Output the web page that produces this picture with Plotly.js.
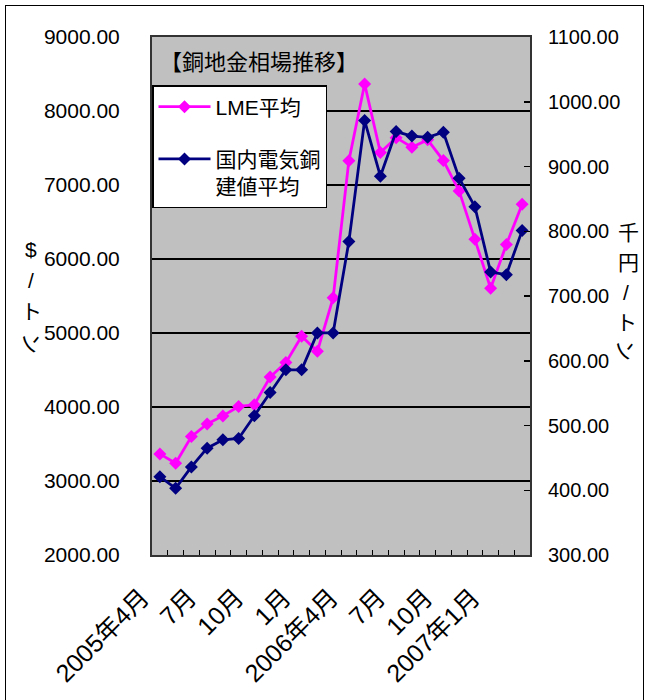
<!DOCTYPE html>
<html>
<head>
<meta charset="utf-8">
<script src="https://cdn.plot.ly/plotly-3.0.1.min.js"></script>
<style>
  html, body { margin: 0; padding: 0; background: #fff; }
  #wrap { position: relative; width: 648px; height: 700px; }
  #chart { width: 648px; height: 700px; }
  #frame { position: absolute; left: 5px; top: 5px; width: 637px; height: 710px;
           border: 1px solid #000; pointer-events: none; }
</style>
</head>
<body>
<div id="wrap">
  <div id="chart"></div>
  <div id="frame"></div>
</div>
<script>
// ---- data ----
const months = ["2005/04","2005/05","2005/06","2005/07","2005/08","2005/09","2005/10","2005/11","2005/12",
                "2006/01","2006/02","2006/03","2006/04","2006/05","2006/06","2006/07","2006/08","2006/09",
                "2006/10","2006/11","2006/12","2007/01","2007/02","2007/03"];
const tickLabels = ["2005年4月","","","7月","","","10月","","","1月","","",
                    "2006年4月","","","7月","","","10月","","","2007年1月","",""];
const lmeAvg = [3366, 3240, 3600, 3770, 3880, 4007, 4030, 4405, 4600, 4955, 4752, 5475,
                7328, 8366, 7440, 7640, 7510, 7610, 7330, 6920, 6266, 5605, 6195, 6740];
const domesticAvg = [421, 403, 436, 465, 478, 480, 515, 551, 586, 586, 643, 643,
                     784, 971, 885, 954, 947, 945, 953, 882, 838, 737, 733, 801];
const leftTicks = [2000, 3000, 4000, 5000, 6000, 7000, 8000, 9000];
const rightTicks = [300, 400, 500, 600, 700, 800, 900, 1000, 1100];
const chartTitle = "【銅地金相場推移】";
const name1 = "LME平均";
const name2 = "国内電気銅<br>建値平均";

// ---- layout helpers (pixel -> paper) ----
const L = 152, R = 530, T = 37, B = 555;
const px = x => (x - L) / (R - L);
const py = y => (B - y) / (B - T);

const FONT = "Liberation Sans, Arial, Noto Sans CJK JP, sans-serif";

const traces = [
  {
    x: months, y: lmeAvg, name: name1, type: "scatter", mode: "lines+markers",
    legendgroup: "a", yaxis: "y",
    line: { color: "#FF00FF", width: 2.8 },
    marker: { symbol: "diamond", size: 10, color: "#FF00FF" }
  },
  {
    x: months, y: domesticAvg, name: name2, type: "scatter", mode: "lines+markers",
    legendgroup: "b", yaxis: "y2",
    line: { color: "#000080", width: 2.8 },
    marker: { symbol: "diamond", size: 10, color: "#000080" }
  }
];

const layout = {
  width: 648, height: 700,
  margin: { l: L, r: 648 - R, t: T, b: 700 - B },
  paper_bgcolor: "#ffffff",
  plot_bgcolor: "#c0c0c0",
  font: { family: FONT, size: 20, color: "#000" },
  showlegend: true,
  title: {
    text: chartTitle, xref: "container", yref: "container",
    x: 160 / 648, xanchor: "left", y: 1 - 62 / 700, yanchor: "middle",
    font: { family: FONT, size: 22, color: "#000" }
  },
  xaxis: {
    type: "category",
    range: [-0.5, months.length - 0.5],
    tickvals: months, ticktext: tickLabels,
    tickson: "boundaries", ticks: "inside", ticklen: 5, tickcolor: "#000",
    tickangle: -45, ticklabelstandoff: 16, ticklabelshift: -18,
    tickfont: { family: FONT, size: 25, color: "#000" },
    showline: true, linecolor: "#333", linewidth: 2, mirror: true,
    showgrid: false, zeroline: false, fixedrange: true
  },
  yaxis: {
    range: [2000, 9000], tickvals: leftTicks,
    tickformat: ".2f",
    ticks: "", ticklabelstandoff: 26,
    tickfont: { family: FONT, size: 21, color: "#000" },
    showgrid: true, gridcolor: "#000", gridwidth: 1.5,
    showline: true, linecolor: "#333", linewidth: 2,
    zeroline: false, fixedrange: true
  },
  yaxis2: {
    overlaying: "y", side: "right",
    range: [300, 1100], tickvals: rightTicks,
    tickformat: ".2f",
    ticks: "inside", ticklen: 6, tickcolor: "#000", tickwidth: 1.5,
    ticklabelstandoff: 12,
    tickfont: { family: FONT, size: 20, color: "#000" },
    showgrid: false, showline: true, linecolor: "#333", linewidth: 2,
    zeroline: false, fixedrange: true
  },
  legend: {
    x: 0, xanchor: "left", y: py(85), yanchor: "top",
    bgcolor: "#ffffff", bordercolor: "#000", borderwidth: 1.5,
    font: { family: FONT, size: 21, color: "#000" },
    traceorder: "grouped", tracegroupgap: 22, valign: "top",
    itemwidth: 52
  },
  annotations: [
    { text: "$", x: px(31), y: py(250) },
    { text: "/", x: px(31), y: py(280) },
    { text: "ト", x: px(31), y: py(312) },
    { text: "ン", x: px(31), y: py(343), textangle: 90 },
    { text: "千", x: px(628), y: py(232) },
    { text: "円", x: px(628), y: py(262) },
    { text: "/", x: px(626), y: py(292) },
    { text: "ト", x: px(626), y: py(322) },
    { text: "ン", x: px(626), y: py(350), textangle: 90 }
  ].map(a => Object.assign({
    xref: "paper", yref: "paper", showarrow: false,
    xanchor: "center", yanchor: "middle",
    font: { family: FONT, size: 21, color: "#000" }
  }, a))
};

Plotly.newPlot("chart", traces, layout, { displayModeBar: false, staticPlot: true });
</script>
</body>
</html>
